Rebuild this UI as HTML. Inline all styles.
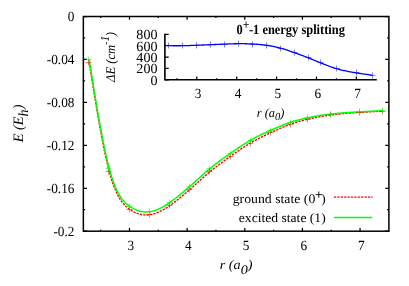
<!DOCTYPE html><html><head><meta charset="utf-8"><style>html,body{margin:0;padding:0;background:#fff}svg{display:block;will-change:transform}text{font-family:"Liberation Serif",serif;font-size:13.3px;fill:#000;text-rendering:geometricPrecision}</style></head><body>
<svg width="409" height="286" viewBox="0 0 409 286">
<rect width="409" height="286" fill="#fff"/>
<rect x="83.35" y="16.5" width="305.55" height="214.70" fill="none" stroke="#000" stroke-width="1.5"/>
<path d="M100.65,231.2v-1.5M100.65,16.5v1.5M129.47,231.2v-3.2M129.47,16.5v3.2M158.30,231.2v-1.5M158.30,16.5v1.5M187.12,231.2v-3.2M187.12,16.5v3.2M215.95,231.2v-1.5M215.95,16.5v1.5M244.77,231.2v-3.2M244.77,16.5v3.2M273.60,231.2v-1.5M273.60,16.5v1.5M302.42,231.2v-3.2M302.42,16.5v3.2M331.25,231.2v-1.5M331.25,16.5v1.5M360.07,231.2v-3.2M360.07,16.5v3.2M83.35,16.50h3.65M388.9,16.50h-3.65M83.35,37.97h1.75M388.9,37.97h-1.75M83.35,59.44h3.65M388.9,59.44h-3.65M83.35,80.91h1.75M388.9,80.91h-1.75M83.35,102.38h3.65M388.9,102.38h-3.65M83.35,123.85h1.75M388.9,123.85h-1.75M83.35,145.32h3.65M388.9,145.32h-3.65M83.35,166.79h1.75M388.9,166.79h-1.75M83.35,188.26h3.65M388.9,188.26h-3.65M83.35,209.73h1.75M388.9,209.73h-1.75M83.35,231.20h3.65M388.9,231.20h-3.65" stroke="#000" stroke-width="1.25" fill="none"/>
<text transform="translate(130.77,249.8) scale(1.0,1.05)" text-anchor="middle" font-size="13.3" >3</text>
<text transform="translate(188.42,249.8) scale(1.0,1.05)" text-anchor="middle" font-size="13.3" >4</text>
<text transform="translate(246.07,249.8) scale(1.0,1.05)" text-anchor="middle" font-size="13.3" >5</text>
<text transform="translate(303.72,249.8) scale(1.0,1.05)" text-anchor="middle" font-size="13.3" >6</text>
<text transform="translate(361.37,249.8) scale(1.0,1.05)" text-anchor="middle" font-size="13.3" >7</text>
<text transform="translate(74.5,21.3) scale(1.0,1.05)" text-anchor="end" font-size="13.3" >0</text>
<text transform="translate(74.5,64.24) scale(1.0,1.05)" text-anchor="end" font-size="13.3" >-0.04</text>
<text transform="translate(74.5,107.18) scale(1.0,1.05)" text-anchor="end" font-size="13.3" >-0.08</text>
<text transform="translate(74.5,150.12) scale(1.0,1.05)" text-anchor="end" font-size="13.3" >-0.12</text>
<text transform="translate(74.5,193.06) scale(1.0,1.05)" text-anchor="end" font-size="13.3" >-0.16</text>
<text transform="translate(74.5,236.0) scale(1.0,1.05)" text-anchor="end" font-size="13.3" >-0.2</text>
<text transform="translate(219.8,268.85) scale(1.065,1.0)" text-anchor="start" font-size="14.5" font-style="italic">r (a<tspan dy="4.8" font-size="13.2">0</tspan><tspan dy="-4.8">)</tspan></text>
<text transform="translate(23.4,142.3) rotate(-90) scale(1.08,1.08)" text-anchor="start" font-size="14.5" font-style="italic">E (E<tspan dy="4.6" font-size="13">h</tspan><tspan dy="-4.6">)</tspan></text>
<path d="M89.12,62.03 L90.10,68.21 L91.08,74.38 L92.07,80.53 L93.05,86.63 L94.03,92.69 L95.02,98.70 L96.00,104.62 L96.98,110.47 L97.97,116.22 L98.95,121.86 L99.93,127.38 L100.92,132.77 L101.90,138.01 L102.88,143.10 L103.87,148.03 L104.85,152.77 L105.83,157.32 L106.82,161.66 L107.80,165.80 L108.78,169.70 L109.77,173.36 L110.75,176.78 L111.73,179.98 L112.72,182.95 L113.70,185.71 L114.68,188.26 L115.67,190.63 L116.65,192.81 L117.63,194.82 L118.62,196.67 L119.60,198.37 L120.58,199.92 L121.57,201.35 L122.55,202.65 L123.53,203.83 L124.52,204.92 L125.50,205.91 L126.48,206.82 L127.47,207.65 L128.45,208.42 L129.43,209.14 L130.42,209.82 L131.40,210.45 L132.38,211.04 L133.37,211.59 L134.35,212.09 L135.33,212.55 L136.32,212.97 L137.30,213.35 L138.28,213.69 L139.27,213.99 L140.25,214.25 L141.23,214.47 L142.22,214.64 L143.20,214.78 L144.18,214.88 L145.17,214.94 L146.15,214.96 L147.13,214.94 L148.12,214.88 L149.10,214.79 L150.08,214.66 L151.07,214.48 L152.05,214.28 L153.03,214.03 L154.02,213.76 L155.00,213.45 L155.98,213.11 L156.97,212.74 L157.95,212.34 L158.93,211.91 L159.92,211.45 L160.90,210.97 L161.88,210.46 L162.87,209.93 L163.85,209.37 L164.83,208.79 L165.82,208.20 L166.80,207.58 L167.78,206.94 L168.77,206.29 L169.75,205.62 L170.73,204.94 L171.72,204.24 L172.70,203.53 L173.68,202.80 L174.67,202.07 L175.65,201.32 L176.63,200.55 L177.62,199.78 L178.60,199.00 L179.58,198.20 L180.57,197.40 L181.55,196.59 L182.53,195.76 L183.52,194.94 L184.50,194.10 L185.48,193.26 L186.47,192.41 L187.45,191.55 L188.43,190.69 L189.42,189.82 L190.40,188.95 L191.38,188.08 L192.37,187.21 L193.35,186.33 L194.33,185.45 L195.32,184.57 L196.30,183.69 L197.28,182.80 L198.27,181.92 L199.25,181.05 L200.23,180.17 L201.22,179.30 L202.20,178.43 L203.18,177.56 L204.17,176.70 L205.15,175.85 L206.13,175.00 L207.12,174.15 L208.10,173.32 L209.08,172.49 L210.07,171.67 L211.05,170.87 L212.03,170.07 L213.02,169.27 L214.00,168.49 L214.98,167.72 L215.97,166.95 L216.95,166.19 L217.93,165.44 L218.92,164.69 L219.90,163.95 L220.88,163.22 L221.87,162.49 L222.85,161.77 L223.83,161.05 L224.82,160.33 L225.80,159.62 L226.78,158.91 L227.77,158.21 L228.75,157.51 L229.73,156.81 L230.72,156.11 L231.70,155.42 L232.68,154.73 L233.67,154.04 L234.65,153.35 L235.63,152.67 L236.62,151.99 L237.60,151.32 L238.58,150.65 L239.57,149.99 L240.55,149.33 L241.53,148.67 L242.52,148.03 L243.50,147.39 L244.48,146.75 L245.47,146.13 L246.45,145.51 L247.43,144.90 L248.42,144.30 L249.40,143.70 L250.38,143.12 L251.37,142.54 L252.35,141.98 L253.33,141.42 L254.32,140.87 L255.30,140.33 L256.28,139.80 L257.27,139.27 L258.25,138.75 L259.23,138.24 L260.22,137.74 L261.20,137.24 L262.18,136.74 L263.17,136.25 L264.15,135.77 L265.13,135.29 L266.12,134.81 L267.10,134.34 L268.08,133.87 L269.07,133.41 L270.05,132.94 L271.03,132.48 L272.02,132.02 L273.00,131.56 L273.98,131.11 L274.97,130.66 L275.95,130.21 L276.93,129.77 L277.92,129.33 L278.90,128.89 L279.88,128.46 L280.87,128.04 L281.85,127.62 L282.83,127.20 L283.82,126.80 L284.80,126.39 L285.78,126.00 L286.77,125.62 L287.75,125.24 L288.73,124.87 L289.72,124.50 L290.70,124.15 L291.68,123.81 L292.67,123.47 L293.65,123.15 L294.63,122.83 L295.62,122.52 L296.60,122.22 L297.58,121.92 L298.57,121.64 L299.55,121.36 L300.53,121.09 L301.52,120.82 L302.50,120.56 L303.48,120.31 L304.47,120.06 L305.45,119.81 L306.43,119.58 L307.42,119.34 L308.40,119.11 L309.38,118.89 L310.37,118.67 L311.35,118.45 L312.33,118.24 L313.32,118.03 L314.30,117.83 L315.28,117.63 L316.27,117.43 L317.25,117.24 L318.23,117.05 L319.22,116.87 L320.20,116.69 L321.18,116.52 L322.17,116.35 L323.15,116.18 L324.13,116.02 L325.12,115.86 L326.10,115.70 L327.08,115.55 L328.07,115.41 L329.05,115.27 L330.03,115.13 L331.02,114.99 L332.00,114.86 L332.98,114.74 L333.97,114.62 L334.95,114.50 L335.93,114.38 L336.92,114.27 L337.90,114.17 L338.88,114.06 L339.87,113.96 L340.85,113.86 L341.83,113.77 L342.82,113.67 L343.80,113.58 L344.78,113.50 L345.77,113.41 L346.75,113.33 L347.73,113.25 L348.72,113.17 L349.70,113.10 L350.68,113.02 L351.67,112.95 L352.65,112.88 L353.63,112.81 L354.62,112.75 L355.60,112.68 L356.58,112.61 L357.57,112.55 L358.55,112.49 L359.53,112.43 L360.52,112.37 L361.50,112.31 L362.48,112.25 L363.47,112.19 L364.45,112.13 L365.43,112.07 L366.42,112.01 L367.40,111.96 L368.38,111.90 L369.37,111.85 L370.35,111.79 L371.33,111.74 L372.32,111.68 L373.30,111.63 L374.28,111.57 L375.27,111.52 L376.25,111.47 L377.23,111.41 L378.22,111.36 L379.20,111.31 L380.18,111.25 L381.17,111.20 L382.15,111.15 L383.13,111.10" stroke="#ff0000" stroke-width="1.4" fill="none" stroke-dasharray="2.3,1.1"/>
<path d="M89.12,59.10 L90.10,65.28 L91.08,71.45 L92.07,77.59 L93.05,83.70 L94.03,89.76 L95.02,95.77 L96.00,101.69 L96.98,107.54 L97.97,113.29 L98.95,118.93 L99.93,124.45 L100.92,129.84 L101.90,135.09 L102.88,140.18 L103.87,145.10 L104.85,149.84 L105.83,154.39 L106.82,158.73 L107.80,162.86 L108.78,166.77 L109.77,170.43 L110.75,173.85 L111.73,177.04 L112.72,180.01 L113.70,182.77 L114.68,185.32 L115.67,187.69 L116.65,189.87 L117.63,191.88 L118.62,193.72 L119.60,195.42 L120.58,196.97 L121.57,198.39 L122.55,199.69 L123.53,200.87 L124.52,201.96 L125.50,202.95 L126.48,203.85 L127.47,204.69 L128.45,205.46 L129.43,206.17 L130.42,206.84 L131.40,207.47 L132.38,208.06 L133.37,208.61 L134.35,209.11 L135.33,209.57 L136.32,209.99 L137.30,210.37 L138.28,210.70 L139.27,211.00 L140.25,211.25 L141.23,211.47 L142.22,211.64 L143.20,211.78 L144.18,211.88 L145.17,211.93 L146.15,211.95 L147.13,211.93 L148.12,211.87 L149.10,211.77 L150.08,211.64 L151.07,211.46 L152.05,211.25 L153.03,211.01 L154.02,210.73 L155.00,210.42 L155.98,210.07 L156.97,209.70 L157.95,209.30 L158.93,208.86 L159.92,208.40 L160.90,207.92 L161.88,207.41 L162.87,206.87 L163.85,206.32 L164.83,205.74 L165.82,205.14 L166.80,204.52 L167.78,203.88 L168.77,203.22 L169.75,202.55 L170.73,201.87 L171.72,201.17 L172.70,200.45 L173.68,199.72 L174.67,198.98 L175.65,198.23 L176.63,197.47 L177.62,196.69 L178.60,195.91 L179.58,195.11 L180.57,194.30 L181.55,193.49 L182.53,192.67 L183.52,191.84 L184.50,191.00 L185.48,190.15 L186.47,189.30 L187.45,188.45 L188.43,187.59 L189.42,186.72 L190.40,185.85 L191.38,184.98 L192.37,184.10 L193.35,183.22 L194.33,182.34 L195.32,181.46 L196.30,180.58 L197.28,179.70 L198.27,178.82 L199.25,177.94 L200.23,177.07 L201.22,176.20 L202.20,175.33 L203.18,174.47 L204.17,173.61 L205.15,172.75 L206.13,171.91 L207.12,171.07 L208.10,170.23 L209.08,169.41 L210.07,168.60 L211.05,167.79 L212.03,166.99 L213.02,166.21 L214.00,165.43 L214.98,164.66 L215.97,163.89 L216.95,163.14 L217.93,162.39 L218.92,161.65 L219.90,160.91 L220.88,160.19 L221.87,159.46 L222.85,158.74 L223.83,158.03 L224.82,157.32 L225.80,156.62 L226.78,155.92 L227.77,155.22 L228.75,154.53 L229.73,153.84 L230.72,153.15 L231.70,152.46 L232.68,151.78 L233.67,151.10 L234.65,150.43 L235.63,149.75 L236.62,149.08 L237.60,148.42 L238.58,147.76 L239.57,147.11 L240.55,146.46 L241.53,145.82 L242.52,145.19 L243.50,144.56 L244.48,143.94 L245.47,143.32 L246.45,142.72 L247.43,142.12 L248.42,141.54 L249.40,140.96 L250.38,140.39 L251.37,139.83 L252.35,139.28 L253.33,138.74 L254.32,138.21 L255.30,137.69 L256.28,137.17 L257.27,136.67 L258.25,136.17 L259.23,135.67 L260.22,135.19 L261.20,134.71 L262.18,134.23 L263.17,133.76 L264.15,133.30 L265.13,132.84 L266.12,132.39 L267.10,131.93 L268.08,131.49 L269.07,131.04 L270.05,130.60 L271.03,130.16 L272.02,129.72 L273.00,129.28 L273.98,128.85 L274.97,128.42 L275.95,127.99 L276.93,127.57 L277.92,127.15 L278.90,126.74 L279.88,126.33 L280.87,125.93 L281.85,125.53 L282.83,125.14 L283.82,124.75 L284.80,124.37 L285.78,124.00 L286.77,123.64 L287.75,123.28 L288.73,122.93 L289.72,122.59 L290.70,122.26 L291.68,121.94 L292.67,121.63 L293.65,121.33 L294.63,121.04 L295.62,120.75 L296.60,120.47 L297.58,120.20 L298.57,119.94 L299.55,119.68 L300.53,119.44 L301.52,119.19 L302.50,118.96 L303.48,118.73 L304.47,118.50 L305.45,118.29 L306.43,118.07 L307.42,117.86 L308.40,117.66 L309.38,117.45 L310.37,117.26 L311.35,117.07 L312.33,116.88 L313.32,116.69 L314.30,116.51 L315.28,116.33 L316.27,116.16 L317.25,115.99 L318.23,115.83 L319.22,115.67 L320.20,115.51 L321.18,115.35 L322.17,115.20 L323.15,115.06 L324.13,114.92 L325.12,114.78 L326.10,114.64 L327.08,114.51 L328.07,114.39 L329.05,114.26 L330.03,114.14 L331.02,114.03 L332.00,113.91 L332.98,113.81 L333.97,113.70 L334.95,113.60 L335.93,113.50 L336.92,113.40 L337.90,113.31 L338.88,113.22 L339.87,113.13 L340.85,113.05 L341.83,112.97 L342.82,112.89 L343.80,112.81 L344.78,112.74 L345.77,112.67 L346.75,112.60 L347.73,112.53 L348.72,112.46 L349.70,112.40 L350.68,112.33 L351.67,112.27 L352.65,112.21 L353.63,112.16 L354.62,112.10 L355.60,112.04 L356.58,111.99 L357.57,111.93 L358.55,111.88 L359.53,111.83 L360.52,111.78 L361.50,111.73 L362.48,111.68 L363.47,111.63 L364.45,111.58 L365.43,111.53 L366.42,111.48 L367.40,111.43 L368.38,111.38 L369.37,111.34 L370.35,111.29 L371.33,111.24 L372.32,111.20 L373.30,111.15 L374.28,111.10 L375.27,111.06 L376.25,111.01 L377.23,110.97 L378.22,110.92 L379.20,110.88 L380.18,110.83 L381.17,110.79 L382.15,110.74 L383.13,110.70" stroke="#00ff00" stroke-width="1.5" fill="none"/>
<path d="M85.50,62.50H91.50M88.50,59.50V65.50" stroke="#ff0000" stroke-width="1" fill="none" opacity="0.5"/>
<path d="M85.50,59.50H91.50M88.50,56.50V62.50" stroke="#00ff00" stroke-width="1" fill="none" opacity="0.55"/>
<path d="M105.50,171.50H111.50M108.50,168.50V174.50" stroke="#ff0000" stroke-width="1" fill="none" opacity="0.5"/>
<path d="M105.50,168.50H111.50M108.50,165.50V171.50" stroke="#00ff00" stroke-width="1" fill="none" opacity="0.55"/>
<path d="M126.50,209.50H132.50M129.50,206.50V212.50" stroke="#ff0000" stroke-width="1" fill="none" opacity="0.5"/>
<path d="M126.50,206.50H132.50M129.50,203.50V209.50" stroke="#00ff00" stroke-width="1" fill="none" opacity="0.55"/>
<path d="M146.50,214.50H152.50M149.50,211.50V217.50" stroke="#ff0000" stroke-width="1" fill="none" opacity="0.5"/>
<path d="M146.50,211.50H152.50M149.50,208.50V214.50" stroke="#00ff00" stroke-width="1" fill="none" opacity="0.55"/>
<path d="M166.50,205.50H172.50M169.50,202.50V208.50" stroke="#ff0000" stroke-width="1" fill="none" opacity="0.5"/>
<path d="M166.50,202.50H172.50M169.50,199.50V205.50" stroke="#00ff00" stroke-width="1" fill="none" opacity="0.55"/>
<path d="M186.50,189.50H192.50M189.50,186.50V192.50" stroke="#ff0000" stroke-width="1" fill="none" opacity="0.5"/>
<path d="M186.50,186.50H192.50M189.50,183.50V189.50" stroke="#00ff00" stroke-width="1" fill="none" opacity="0.55"/>
<path d="M206.50,171.50H212.50M209.50,168.50V174.50" stroke="#ff0000" stroke-width="1" fill="none" opacity="0.5"/>
<path d="M206.50,168.50H212.50M209.50,165.50V171.50" stroke="#00ff00" stroke-width="1" fill="none" opacity="0.55"/>
<path d="M227.50,156.50H233.50M230.50,153.50V159.50" stroke="#ff0000" stroke-width="1" fill="none" opacity="0.5"/>
<path d="M227.50,153.50H233.50M230.50,150.50V156.50" stroke="#00ff00" stroke-width="1" fill="none" opacity="0.55"/>
<path d="M247.50,143.50H253.50M250.50,140.50V146.50" stroke="#ff0000" stroke-width="1" fill="none" opacity="0.5"/>
<path d="M247.50,140.50H253.50M250.50,137.50V143.50" stroke="#00ff00" stroke-width="1" fill="none" opacity="0.55"/>
<path d="M267.50,132.50H273.50M270.50,129.50V135.50" stroke="#ff0000" stroke-width="1" fill="none" opacity="0.5"/>
<path d="M267.50,130.50H273.50M270.50,127.50V133.50" stroke="#00ff00" stroke-width="1" fill="none" opacity="0.55"/>
<path d="M287.50,124.50H293.50M290.50,121.50V127.50" stroke="#ff0000" stroke-width="1" fill="none" opacity="0.5"/>
<path d="M287.50,122.50H293.50M290.50,119.50V125.50" stroke="#00ff00" stroke-width="1" fill="none" opacity="0.55"/>
<path d="M304.50,119.50H310.50M307.50,116.50V122.50" stroke="#ff0000" stroke-width="1" fill="none" opacity="0.5"/>
<path d="M304.50,117.50H310.50M307.50,114.50V120.50" stroke="#00ff00" stroke-width="1" fill="none" opacity="0.55"/>
<path d="M327.50,114.50H333.50M330.50,111.50V117.50" stroke="#ff0000" stroke-width="1" fill="none" opacity="0.5"/>
<path d="M327.50,114.50H333.50M330.50,111.50V117.50" stroke="#00ff00" stroke-width="1" fill="none" opacity="0.55"/>
<path d="M356.50,112.50H362.50M359.50,109.50V115.50" stroke="#ff0000" stroke-width="1" fill="none" opacity="0.5"/>
<path d="M356.50,111.50H362.50M359.50,108.50V114.50" stroke="#00ff00" stroke-width="1" fill="none" opacity="0.55"/>
<path d="M379.50,111.50H385.50M382.50,108.50V114.50" stroke="#ff0000" stroke-width="1" fill="none" opacity="0.5"/>
<path d="M379.50,110.50H385.50M382.50,107.50V113.50" stroke="#00ff00" stroke-width="1" fill="none" opacity="0.55"/>
<text transform="translate(315.3,202.9) scale(1.035,0.98)" text-anchor="end" font-size="13.3" >ground state (0</text>
<path d="M315.7,194.6h6.2M318.8,191.5v6.2" stroke="#000" stroke-width="0.9" fill="none"/>
<text transform="translate(321.3,202.9) scale(1.0,0.98)" text-anchor="start" font-size="13.3" >)</text>
<text transform="translate(325.7,222.2) scale(1.023,0.98)" text-anchor="end" font-size="13.3" >excited state (1)</text>
<path d="M333.9,197.1H372.6" stroke="#ff0000" stroke-width="1.4" stroke-dasharray="2.3,1.1" fill="none"/>
<path d="M333.9,217.6H372.2" stroke="#00ff00" stroke-width="1.5" fill="none"/>
<path d="M164.9,33.8V79.8H376.8" stroke="#000" stroke-width="1.6" fill="none"/>
<path d="M176.87,79.8v-1.6M196.81,79.8v-3.3M216.75,79.8v-1.6M236.70,79.8v-3.3M256.64,79.8v-1.6M276.58,79.8v-3.3M296.53,79.8v-1.6M316.47,79.8v-3.3M336.41,79.8v-1.6M356.36,79.8v-3.3M164.9,79.80h3.8M164.9,68.42h3.8M164.9,57.05h3.8M164.9,45.67h3.8M164.9,34.30h3.8" stroke="#000" stroke-width="1.25" fill="none"/>
<text transform="translate(198.11,97.9) scale(1.0,1.05)" text-anchor="middle" font-size="13.3" >3</text>
<text transform="translate(238.0,97.9) scale(1.0,1.05)" text-anchor="middle" font-size="13.3" >4</text>
<text transform="translate(277.88,97.9) scale(1.0,1.05)" text-anchor="middle" font-size="13.3" >5</text>
<text transform="translate(317.77,97.9) scale(1.0,1.05)" text-anchor="middle" font-size="13.3" >6</text>
<text transform="translate(357.66,97.9) scale(1.0,1.05)" text-anchor="middle" font-size="13.3" >7</text>
<text transform="translate(157.5,84.7) scale(1.06,1.05)" text-anchor="end" font-size="13.3" >0</text>
<text transform="translate(157.5,73.33) scale(1.06,1.05)" text-anchor="end" font-size="13.3" >200</text>
<text transform="translate(157.5,61.95) scale(1.06,1.05)" text-anchor="end" font-size="13.3" >400</text>
<text transform="translate(157.5,50.57) scale(1.06,1.05)" text-anchor="end" font-size="13.3" >600</text>
<text transform="translate(157.5,39.2) scale(1.06,1.05)" text-anchor="end" font-size="13.3" >800</text>
<text transform="translate(256.8,116.7) scale(0.93,0.95)" text-anchor="start" font-size="12.5" font-style="italic">r (a<tspan dy="3.7" font-size="11.3">0</tspan><tspan dy="-3.7">)</tspan></text>
<text transform="translate(114.8,82.0) rotate(-90) scale(0.95,1.0)" text-anchor="start" font-size="12.2" font-style="italic">ΔE (cm<tspan dy="-6.2" font-size="10">-</tspan><tspan font-size="12.3">1</tspan><tspan dy="6.2" dx="-0.6">)</tspan></text>
<text transform="translate(236.5,33.9) scale(0.935,1.05)" text-anchor="start" font-size="13.3" font-weight="bold">0<tspan dy="-4.5" font-size="12.5">+</tspan><tspan dy="4.5" dx="-0.5">-1 energy splitting</tspan></text>
<path d="M168.89,45.70 L169.91,45.71 L170.93,45.72 L171.96,45.72 L172.98,45.73 L174.00,45.74 L175.02,45.74 L176.04,45.74 L177.07,45.74 L178.09,45.74 L179.11,45.74 L180.13,45.73 L181.16,45.72 L182.18,45.71 L183.20,45.69 L184.22,45.67 L185.24,45.65 L186.27,45.63 L187.29,45.60 L188.31,45.56 L189.33,45.53 L190.36,45.50 L191.38,45.46 L192.40,45.42 L193.42,45.38 L194.44,45.34 L195.47,45.30 L196.49,45.26 L197.51,45.22 L198.53,45.18 L199.56,45.14 L200.58,45.10 L201.60,45.06 L202.62,45.02 L203.64,44.98 L204.67,44.95 L205.69,44.91 L206.71,44.86 L207.73,44.82 L208.76,44.78 L209.78,44.74 L210.80,44.70 L211.82,44.66 L212.84,44.61 L213.87,44.57 L214.89,44.52 L215.91,44.48 L216.93,44.43 L217.96,44.39 L218.98,44.35 L220.00,44.30 L221.02,44.26 L222.04,44.21 L223.07,44.17 L224.09,44.13 L225.11,44.08 L226.13,44.04 L227.16,44.00 L228.18,43.96 L229.20,43.93 L230.22,43.89 L231.24,43.86 L232.27,43.83 L233.29,43.80 L234.31,43.77 L235.33,43.75 L236.36,43.73 L237.38,43.71 L238.40,43.70 L239.42,43.69 L240.44,43.69 L241.47,43.69 L242.49,43.70 L243.51,43.71 L244.53,43.72 L245.56,43.74 L246.58,43.76 L247.60,43.79 L248.62,43.82 L249.64,43.86 L250.67,43.90 L251.69,43.95 L252.71,44.00 L253.73,44.06 L254.76,44.12 L255.78,44.19 L256.80,44.27 L257.82,44.35 L258.84,44.43 L259.87,44.52 L260.89,44.62 L261.91,44.73 L262.93,44.84 L263.96,44.96 L264.98,45.08 L266.00,45.22 L267.02,45.36 L268.04,45.51 L269.07,45.66 L270.09,45.83 L271.11,46.00 L272.13,46.19 L273.16,46.38 L274.18,46.58 L275.20,46.80 L276.22,47.02 L277.24,47.26 L278.27,47.50 L279.29,47.76 L280.31,48.03 L281.33,48.31 L282.36,48.61 L283.38,48.91 L284.40,49.23 L285.42,49.55 L286.44,49.88 L287.47,50.22 L288.49,50.57 L289.51,50.92 L290.53,51.28 L291.56,51.64 L292.58,52.00 L293.60,52.37 L294.62,52.73 L295.64,53.10 L296.67,53.47 L297.69,53.84 L298.71,54.21 L299.73,54.58 L300.76,54.96 L301.78,55.33 L302.80,55.71 L303.82,56.10 L304.84,56.49 L305.87,56.88 L306.89,57.27 L307.91,57.67 L308.93,58.08 L309.96,58.48 L310.98,58.90 L312.00,59.31 L313.02,59.73 L314.04,60.15 L315.07,60.58 L316.09,61.00 L317.11,61.42 L318.13,61.85 L319.16,62.27 L320.18,62.69 L321.20,63.10 L322.22,63.51 L323.24,63.92 L324.27,64.33 L325.29,64.73 L326.31,65.12 L327.33,65.51 L328.36,65.89 L329.38,66.26 L330.40,66.63 L331.42,66.99 L332.44,67.34 L333.47,67.68 L334.49,68.01 L335.51,68.33 L336.53,68.64 L337.56,68.93 L338.58,69.22 L339.60,69.50 L340.62,69.76 L341.64,70.02 L342.67,70.27 L343.69,70.50 L344.71,70.73 L345.73,70.96 L346.76,71.17 L347.78,71.38 L348.80,71.58 L349.82,71.77 L350.84,71.96 L351.87,72.15 L352.89,72.33 L353.91,72.50 L354.93,72.67 L355.96,72.84 L356.98,73.00 L358.00,73.16 L359.02,73.32 L360.04,73.47 L361.07,73.62 L362.09,73.77 L363.11,73.92 L364.13,74.07 L365.16,74.21 L366.18,74.36 L367.20,74.50 L368.22,74.64 L369.24,74.78 L370.27,74.92 L371.29,75.06 L372.31,75.20" stroke="#0000ff" stroke-width="1.3" fill="none"/>
<path d="M165.50,45.50H171.50M168.50,42.50V48.50" stroke="#0000ff" stroke-width="1" fill="none" opacity="0.5"/>
<path d="M179.50,45.50H185.50M182.50,42.50V48.50" stroke="#0000ff" stroke-width="1" fill="none" opacity="0.5"/>
<path d="M193.50,45.50H199.50M196.50,42.50V48.50" stroke="#0000ff" stroke-width="1" fill="none" opacity="0.5"/>
<path d="M207.50,44.50H213.50M210.50,41.50V47.50" stroke="#0000ff" stroke-width="1" fill="none" opacity="0.5"/>
<path d="M221.50,44.50H227.50M224.50,41.50V47.50" stroke="#0000ff" stroke-width="1" fill="none" opacity="0.5"/>
<path d="M235.50,43.50H241.50M238.50,40.50V46.50" stroke="#0000ff" stroke-width="1" fill="none" opacity="0.5"/>
<path d="M249.50,44.50H255.50M252.50,41.50V47.50" stroke="#0000ff" stroke-width="1" fill="none" opacity="0.5"/>
<path d="M263.50,45.50H269.50M266.50,42.50V48.50" stroke="#0000ff" stroke-width="1" fill="none" opacity="0.5"/>
<path d="M277.50,48.50H283.50M280.50,45.50V51.50" stroke="#0000ff" stroke-width="1" fill="none" opacity="0.5"/>
<path d="M291.50,52.50H297.50M294.50,49.50V55.50" stroke="#0000ff" stroke-width="1" fill="none" opacity="0.5"/>
<path d="M305.50,57.50H311.50M308.50,54.50V60.50" stroke="#0000ff" stroke-width="1" fill="none" opacity="0.5"/>
<path d="M317.50,62.50H323.50M320.50,59.50V65.50" stroke="#0000ff" stroke-width="1" fill="none" opacity="0.5"/>
<path d="M333.50,68.50H339.50M336.50,65.50V71.50" stroke="#0000ff" stroke-width="1" fill="none" opacity="0.5"/>
<path d="M353.50,72.50H359.50M356.50,69.50V75.50" stroke="#0000ff" stroke-width="1" fill="none" opacity="0.5"/>
<path d="M369.50,75.50H375.50M372.50,72.50V78.50" stroke="#0000ff" stroke-width="1" fill="none" opacity="0.5"/>
</svg></body></html>
